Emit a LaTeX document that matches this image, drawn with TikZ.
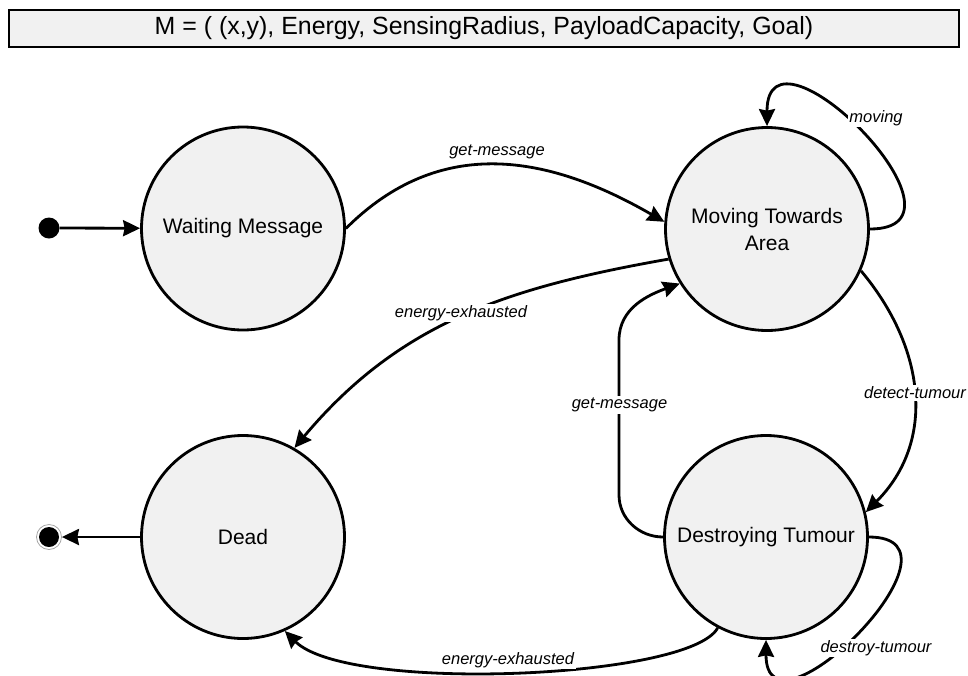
\documentclass[tikz,border=0pt]{standalone}
\usepackage{fontspec}
\setmainfont{Liberation Sans}
\usetikzlibrary{arrows.meta}
\definecolor{stategray}{HTML}{F1F1F1}
\begin{document}
\begin{tikzpicture}[x=1pt,y=1pt,
  state/.style={circle, draw, line width=2.8pt, fill=stategray, minimum size=203pt, inner sep=0pt,
    font=\fontsize{21}{27}\selectfont, align=center},
  edge/.style={line width=2.8pt, -{Stealth[length=17pt,width=16pt,inset=1.5pt]}},
  lbl/.style={font=\fontsize{16.5}{20}\selectfont\itshape, fill=white, inner sep=1.5pt},
]
\useasboundingbox (0,0) rectangle (968,-675);

% title box
\node[draw, line width=2.2pt, fill=stategray, minimum width=950pt, minimum height=37pt, inner sep=0pt,
  font=\fontsize{24.9}{28}\selectfont] (title) at (484,-28.5)
  {M = ( (x,y), Energy, SensingRadius, PayloadCapacity, Goal)};

% states
\node[state] (wm) at (243,-228.5) {Waiting Message};
\node[state] (mta) at (767,-229) {Moving Towards\\Area};
\node[state] (dead) at (243,-537) {Dead};
\node[state] (dt) at (766,-537) {Destroying Tumour};

% initial and final
\node[circle, fill=black, minimum size=21pt, inner sep=0pt] (init) at (49,-228) {};
\node[circle, draw=gray!70, line width=0.8pt, minimum size=25pt, inner sep=0pt] (fin) at (49,-537) {};
\node[circle, fill=black, minimum size=20pt, inner sep=0pt] (fincore) at (49,-537) {};

% waypoints
\coordinate (gm1) at (619,-495);
\coordinate (gm2) at (619,-340);

% edges
\draw[edge] (init) -- (wm);
\draw[edge] (wm.east) to[out=45,in=150,looseness=1.07] (mta.176);
\draw[edge] (mta.east) .. controls +(118,0) and +(0,118) .. (mta.north);
\draw[edge] (mta.197) to[out=190,in=50] (dead.60);
\draw[edge] (mta.336) .. controls +(-50:100) and +(45:100) .. (dt.14);
\draw[edge] (dt.west) to[out=180,in=-90] (gm1) -- (gm2) to[out=90,in=200] (mta.212);
\draw[edge] (dt.east) .. controls +(112,0) and +(0,-112) .. (dt.south);
\draw[edge] (dt.242) .. controls +(242:58) and +(-45:88) .. (dead.294);
\draw[edge] (dead.west) -- (fin);

% labels
\node[lbl] (l1) at (497,-152) {get-message};
\node[lbl] (l2) at (876,-118) {moving};
\node[lbl] (l3) at (461,-313) {energy-exhausted};
\node[lbl] (l4) at (619.5,-405) {get-message};
\node[lbl] (l5) at (915,-393) {detect-tumour};
\node[lbl] (l6) at (876,-648) {destroy-tumour};
\node[lbl] (l7) at (508,-660) {energy-exhausted};
\end{tikzpicture}
\end{document}
